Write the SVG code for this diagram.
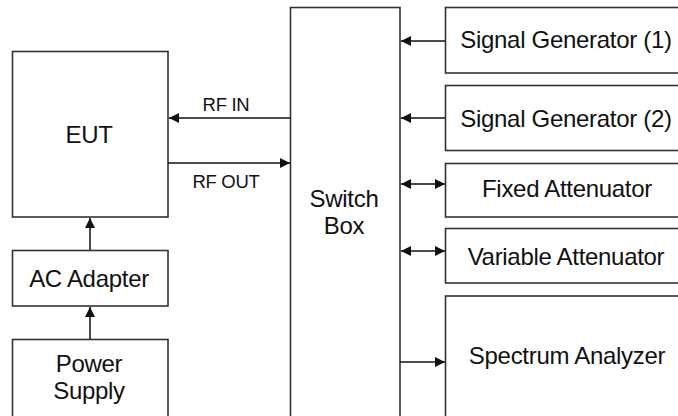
<svg xmlns="http://www.w3.org/2000/svg" width="678" height="416" viewBox="0 0 678 416">
<defs>
<marker id="ah" viewBox="0 0 10 10" refX="10" refY="5" markerWidth="10" markerHeight="10" markerUnits="userSpaceOnUse" orient="auto-start-reverse">
<path d="M0,0 L10,5 L0,10 z" fill="#111"/>
</marker>
<style>
.box{fill:#fff;stroke:#333;stroke-width:1.6}
.t{font-family:"Liberation Sans",Arial,sans-serif;font-size:24px;letter-spacing:-0.3px;fill:#111;text-anchor:middle}
.s{font-family:"Liberation Sans",Arial,sans-serif;font-size:18.5px;letter-spacing:-0.3px;fill:#111;text-anchor:middle}
.c{stroke:#111;stroke-width:1.5;fill:none}
</style>
</defs>
<rect width="678" height="416" fill="#fff"/>
<g id="eut"><rect class="box" x="12.5" y="51.5" width="155.5" height="165.5"/><text class="t" x="89" y="143">EUT</text></g>
<g id="ac-adapter"><rect class="box" x="12.5" y="250.5" width="155.5" height="55.5"/><text class="t" x="89" y="287">AC Adapter</text></g>
<g id="power-supply"><rect class="box" x="12.5" y="339.5" width="155.5" height="90"/><text class="t" x="89" y="372">Power</text><text class="t" x="89" y="399">Supply</text></g>
<g id="switch-box"><rect class="box" x="290.5" y="7.5" width="109.5" height="420"/><text class="t" x="344" y="207">Switch</text><text class="t" x="344" y="234">Box</text></g>
<g id="sig-gen-1"><rect class="box" x="445.5" y="7.5" width="250" height="65.5"/><text class="t" x="566" y="48">Signal Generator (1)</text></g>
<g id="sig-gen-2"><rect class="box" x="445.5" y="85.5" width="250" height="65"/><text class="t" x="566" y="127">Signal Generator (2)</text></g>
<g id="fixed-att"><rect class="box" x="445.5" y="163.5" width="250" height="53.5"/><text class="t" x="567" y="197">Fixed Attenuator</text></g>
<g id="var-att"><rect class="box" x="445.5" y="228.5" width="250" height="54.5"/><text class="t" x="566" y="265">Variable Attenuator</text></g>
<g id="spectrum"><rect class="box" x="445.5" y="296" width="250" height="140"/><text class="t" x="567" y="364">Spectrum Analyzer</text></g>
<g id="connectors">
<line class="c" x1="90" y1="250" x2="90" y2="218" marker-end="url(#ah)"/>
<line class="c" x1="90" y1="339" x2="90" y2="307" marker-end="url(#ah)"/>
<line class="c" x1="290" y1="118" x2="169" y2="118" marker-end="url(#ah)"/>
<line class="c" x1="168" y1="163" x2="290" y2="163" marker-end="url(#ah)"/>
<text class="s" x="226" y="111">RF IN</text>
<text class="s" x="226" y="188">RF OUT</text>
<line class="c" x1="445" y1="41" x2="401" y2="41" marker-end="url(#ah)"/>
<line class="c" x1="445" y1="118" x2="401" y2="118" marker-end="url(#ah)"/>
<line class="c" x1="401" y1="184" x2="445" y2="184" marker-start="url(#ah)" marker-end="url(#ah)"/>
<line class="c" x1="401" y1="251" x2="445" y2="251" marker-start="url(#ah)" marker-end="url(#ah)"/>
<line class="c" x1="400" y1="362" x2="445" y2="362" marker-end="url(#ah)"/>
</g>
</svg>
